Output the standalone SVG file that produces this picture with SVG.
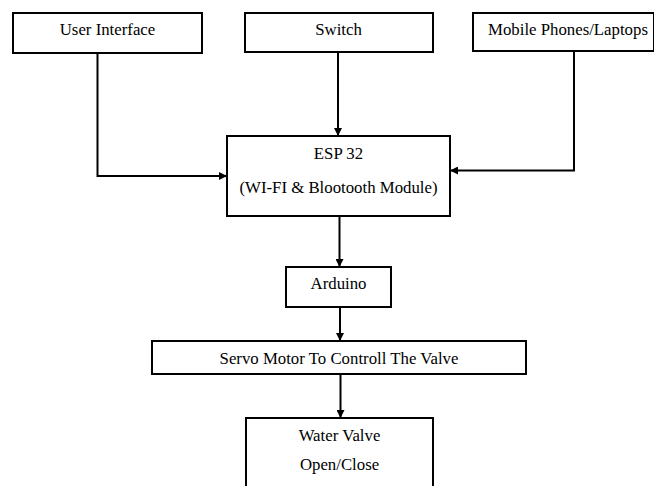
<svg xmlns="http://www.w3.org/2000/svg" width="654" height="486" viewBox="0 0 654 486">
<style>
.box{fill:#fff;stroke:#000;stroke-width:2}
.lbl{font-family:'Liberation Serif','Times New Roman',serif;font-size:16.8px;fill:#000;text-anchor:middle}
.conn{fill:none;stroke:#000;stroke-width:2}
</style>
<defs>
<marker id="arr" markerUnits="userSpaceOnUse" markerWidth="8" markerHeight="8" refX="8" refY="4" orient="auto">
<path d="M0,0 L8,4 L0,8 z" fill="#000"/>
</marker>
</defs>
<rect width="654" height="486" fill="#fff"/>
<g id="connectors">
<path class="conn" d="M97.5 53 V176 H227" marker-end="url(#arr)"/>
<path class="conn" d="M338 52 V136" marker-end="url(#arr)"/>
<path class="conn" d="M574 51 V170.5 H450" marker-end="url(#arr)"/>
<path class="conn" d="M339.5 217 V267" marker-end="url(#arr)"/>
<path class="conn" d="M340 307 V341" marker-end="url(#arr)"/>
<path class="conn" d="M340.5 374 V418" marker-end="url(#arr)"/>
</g>
<g id="user-interface">
<rect class="box" x="13" y="13" width="189" height="40"/>
<text class="lbl" x="107.5" y="34.5">User Interface</text>
</g>
<g id="switch">
<rect class="box" x="245" y="13" width="188" height="39"/>
<text class="lbl" x="338.5" y="34.5">Switch</text>
</g>
<g id="mobile">
<rect class="box" x="473" y="13" width="181" height="38"/>
<text class="lbl" x="568" y="34.5">Mobile Phones/Laptops</text>
</g>
<g id="esp32">
<rect class="box" x="227" y="136" width="223" height="80"/>
<text class="lbl" x="338.5" y="158.5">ESP 32</text>
<text class="lbl" x="338.5" y="192.5">(WI-FI &amp; Blootooth Module)</text>
</g>
<g id="arduino">
<rect class="box" x="286" y="267" width="105" height="40"/>
<text class="lbl" x="338.5" y="288.5">Arduino</text>
</g>
<g id="servo">
<rect class="box" x="152" y="341" width="374" height="33"/>
<text class="lbl" x="339" y="364">Servo Motor To Controll The Valve</text>
</g>
<g id="water-valve">
<rect class="box" x="246" y="418" width="187" height="80"/>
<text class="lbl" x="339.5" y="440.5">Water Valve</text>
<text class="lbl" x="339.5" y="470">Open/Close</text>
</g>
</svg>
